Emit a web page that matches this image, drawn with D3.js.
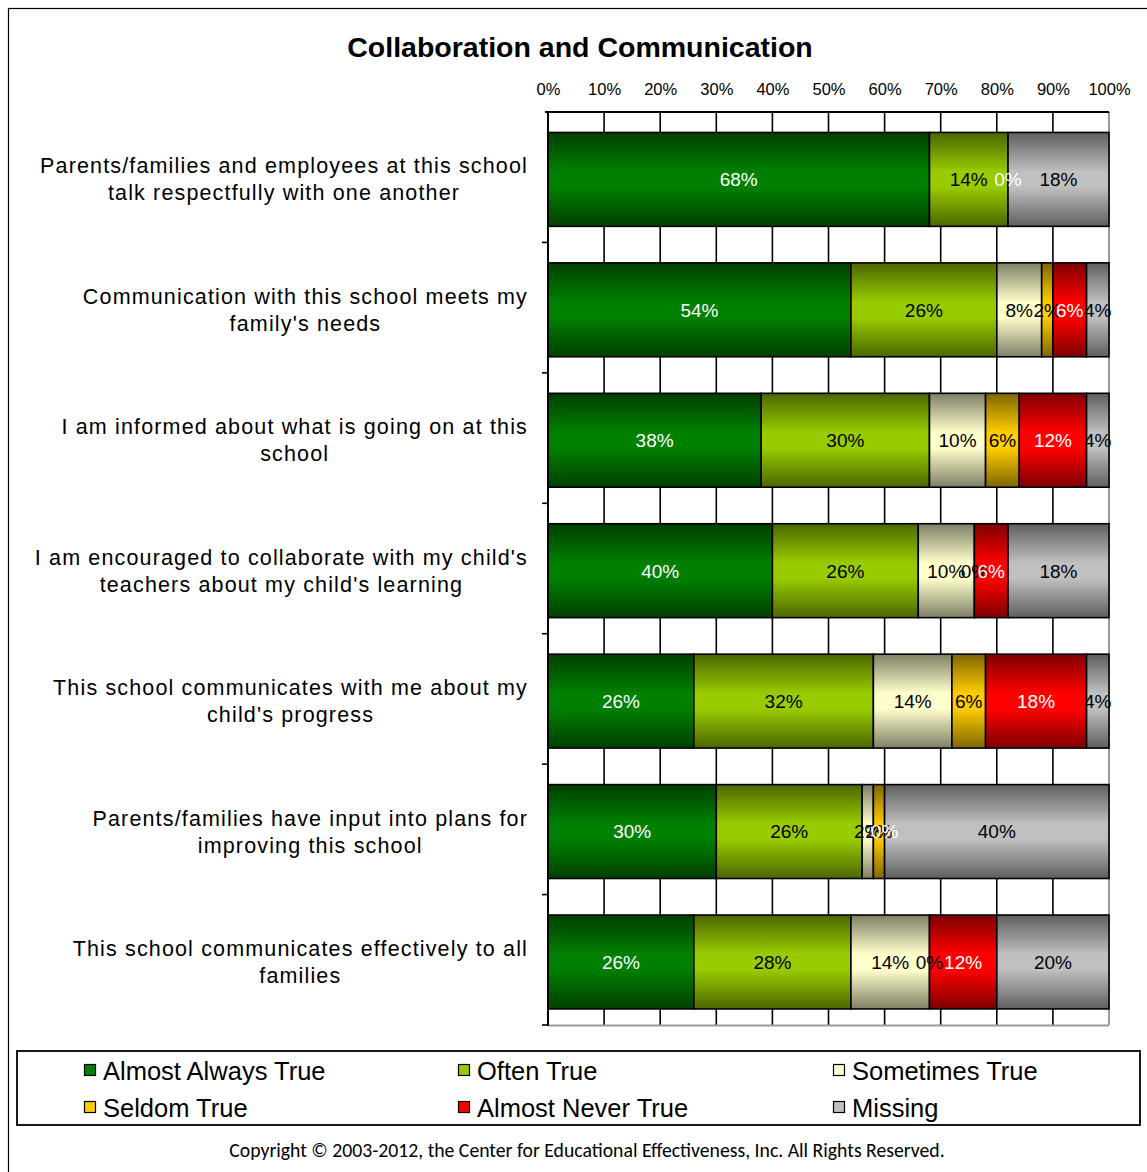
<!DOCTYPE html>
<html>
<head>
<meta charset="utf-8">
<script src="https://cdn.jsdelivr.net/npm/d3@7"></script>
<style>
  body { margin: 0; background: #fff; }
  svg { display: block; }
  text { font-family: Arial, "Liberation Sans", sans-serif; }
</style>
</head>
<body>
<svg id="chart" width="1147" height="1172"></svg>
<script>
// Survey statements (each entry is the wrapped lines of one label)
const categories = [
  ["Parents/families and employees at this school", "talk respectfully with one another"],
  ["Communication with this school meets my", "family's needs"],
  ["I am informed about what is going on at this", "school"],
  ["I am encouraged to collaborate with my child's", "teachers about my child's learning"],
  ["This school communicates with me about my", "child's progress"],
  ["Parents/families have input into plans for", "improving this school"],
  ["This school communicates effectively to all", "families"]
];

const seriesNames = ["Almost Always True", "Often True", "Sometimes True",
                     "Seldom True", "Almost Never True", "Missing"];

// Percent of responses per statement (null = no value reported)
const almostAlways = [68, 54, 38, 40, 26, 30, 26];
const oftenTrue    = [14, 26, 30, 26, 32, 26, 28];
const sometimes    = [null, 8, 10, 10, 14, 2, 14];
const seldom       = [null, 2, 6, 0, 6, 2, 0];
const almostNever  = [0, 6, 12, 6, 18, 0, 12];
const missing      = [18, 4, 4, 18, 4, 40, 20];

const tickValues = [0, 10, 20, 30, 40, 50, 60, 70, 80, 90, 100];
const tickLabels = ["0%", "10%", "20%", "30%", "40%", "50%", "60%", "70%", "80%", "90%", "100%"];

const seriesValues = [almostAlways, oftenTrue, sometimes, seldom, almostNever, missing];

// bright centre / dark edge of each bar gradient, plus label colour
const palette = [
  { mid: "#008000", edge: "#003f00", label: "#ffffff" },
  { mid: "#99cc00", edge: "#4c6600", label: "#000000" },
  { mid: "#ffffcc", edge: "#7f7f66", label: "#000000" },
  { mid: "#ffcc00", edge: "#7f6600", label: "#000000" },
  { mid: "#ff0000", edge: "#7f0000", label: "#ffffff" },
  { mid: "#c0c0c0", edge: "#5f5f5f", label: "#000000" }
];

const svg = d3.select("#chart");
const W = 1147, H = 1172;

// outer frame
svg.append("rect")
  .attr("x", 8.5).attr("y", 8.5)
  .attr("width", W).attr("height", H)
  .attr("fill", "none").attr("stroke", "#000").attr("stroke-width", 1.2);

// gradients
const defs = svg.append("defs");
palette.forEach((p, i) => {
  const g = defs.append("linearGradient")
    .attr("id", "grad" + i)
    .attr("x1", 0).attr("y1", 0).attr("x2", 0).attr("y2", 1);
  g.append("stop").attr("offset", "0%").attr("stop-color", p.edge);
  g.append("stop").attr("offset", "42%").attr("stop-color", p.mid);
  g.append("stop").attr("offset", "58%").attr("stop-color", p.mid);
  g.append("stop").attr("offset", "100%").attr("stop-color", p.edge);
});

const plotLeft = 548, plotRight = 1109, plotTop = 112, plotBottom = 1025;

const x = d3.scaleLinear().domain([0, 100]).range([plotLeft, plotRight]);
const y = d3.scaleBand()
  .domain(d3.range(categories.length))
  .range([plotTop, plotBottom])
  .paddingInner(0.28)
  .paddingOuter(0.14)
  .align(0.56);

// title
svg.append("text")
  .attr("x", 580).attr("y", 57)
  .attr("text-anchor", "middle")
  .attr("font-size", 28.5).attr("font-weight", "bold")
  .text("Collaboration and Communication");

// vertical gridlines
svg.append("g")
  .selectAll("line")
  .data(tickValues)
  .join("line")
  .attr("x1", d => x(d)).attr("x2", d => x(d))
  .attr("y1", plotTop).attr("y2", plotBottom)
  .attr("stroke", d => d === 100 ? "#9a9a9a" : "#000")
  .attr("stroke-width", d => d === 100 ? 2 : 1.6);

// bottom plot border
svg.append("line")
  .attr("x1", plotLeft).attr("x2", plotRight)
  .attr("y1", plotBottom + 0.5).attr("y2", plotBottom + 0.5)
  .attr("stroke", "#9a9a9a").attr("stroke-width", 2);

// top axis labels
const axis = d3.axisTop(x)
  .tickValues(tickValues)
  .tickFormat((d, i) => tickLabels[i])
  .tickSize(0)
  .tickPadding(17);
const axisG = svg.append("g")
  .attr("transform", `translate(0,${plotTop})`)
  .call(axis);
axisG.select(".domain").remove();
axisG.selectAll("text")
  .attr("font-size", 16.5)
  .attr("font-family", "Arial, 'Liberation Sans', sans-serif")
  .attr("fill", "#000");

// top axis line
svg.append("line")
  .attr("x1", plotLeft - 3).attr("x2", plotRight)
  .attr("y1", plotTop).attr("y2", plotTop)
  .attr("stroke", "#000").attr("stroke-width", 1.8);

// stacked data
const rows = categories.map((c, i) => {
  const r = { index: i };
  seriesNames.forEach((s, k) => { r[s] = seriesValues[k][i]; });
  return r;
});
const stack = d3.stack()
  .keys(seriesNames)
  .value((d, key) => d[key] == null ? 0 : d[key]);
const layers = stack(rows);

const barsG = svg.append("g");
layers.forEach((layer, k) => {
  barsG.append("g")
    .selectAll("rect")
    .data(layer.filter(d => (d[1] - d[0]) > 0))
    .join("rect")
    .attr("x", d => x(d[0]))
    .attr("y", d => y(d.data.index))
    .attr("width", d => x(d[1]) - x(d[0]))
    .attr("height", y.bandwidth())
    .attr("fill", `url(#grad${k})`)
    .attr("stroke", "#000")
    .attr("stroke-width", 1.6);
});

// value labels
const labelsG = svg.append("g");
layers.forEach((layer, k) => {
  labelsG.append("g")
    .selectAll("text")
    .data(layer.filter(d => d.data[seriesNames[k]] != null))
    .join("text")
    .attr("x", d => (x(d[0]) + x(d[1])) / 2)
    .attr("y", d => y(d.data.index) + y.bandwidth() / 2)
    .attr("dy", "0.36em")
    .attr("text-anchor", "middle")
    .attr("font-size", 19)
    .attr("fill", palette[k].label)
    .text(d => d.data[seriesNames[k]] + "%");
});

// left axis line and category ticks
svg.append("line")
  .attr("x1", plotLeft).attr("x2", plotLeft)
  .attr("y1", plotTop).attr("y2", plotBottom + 1)
  .attr("stroke", "#000").attr("stroke-width", 1.8);
svg.append("g")
  .selectAll("line")
  .data(d3.range(1, categories.length + 1))
  .join("line")
  .attr("x1", plotLeft - 6).attr("x2", plotLeft)
  .attr("y1", i => plotTop + i * y.step())
  .attr("y2", i => plotTop + i * y.step())
  .attr("stroke", "#000").attr("stroke-width", 1.6);

// category labels: each block centred on its longest line, right edge at 528
const catG = svg.append("g");
categories.forEach((lines, i) => {
  const cy = y(i) + y.bandwidth() / 2;
  const t = catG.append("text")
    .attr("text-anchor", "middle")
    .attr("font-size", 21.5)
    .attr("letter-spacing", 1.15)
    .attr("fill", "#000");
  const spans = lines.map((ln, j) =>
    t.append("tspan")
      .attr("y", cy + (j - (lines.length - 1) / 2) * 27 + 7.5)
      .text(ln));
  const maxW = d3.max(spans, s => s.node().getComputedTextLength());
  spans.forEach(s => s.attr("x", 528 - maxW / 2));
});

// legend
const legendTop = 1051;
svg.append("rect")
  .attr("x", 17).attr("y", legendTop)
  .attr("width", 1123).attr("height", 74)
  .attr("fill", "#fff").attr("stroke", "#000").attr("stroke-width", 1.8);
const legendCols = [84, 458, 833];
const legendRows = [1071, 1108];
seriesNames.forEach((name, k) => {
  const lx = legendCols[k % 3], ly = legendRows[Math.floor(k / 3)];
  svg.append("rect")
    .attr("x", lx + 0.5).attr("y", ly - 6.5)
    .attr("width", 11).attr("height", 11)
    .attr("fill", palette[k].mid)
    .attr("stroke", "#000").attr("stroke-width", 1.2);
  svg.append("text")
    .attr("x", lx + 19).attr("y", ly + 9)
    .attr("font-size", 25.5)
    .attr("fill", "#000")
    .text(name);
});

// copyright line
const copy = svg.append("text")
  .attr("x", 587).attr("y", 1157)
  .attr("text-anchor", "middle")
  .style("font-family", "Carlito, Lato, 'Open Sans', sans-serif")
  .attr("font-size", 17)
  .attr("fill", "#000")
  .text("Copyright \u00a9 2003-2012, the Center for Educational Effectiveness, Inc.  All Rights Reserved.");
const cw = copy.node().getComputedTextLength();
copy.attr("font-size", 17 * 716 / cw);
</script>
</body>
</html>
